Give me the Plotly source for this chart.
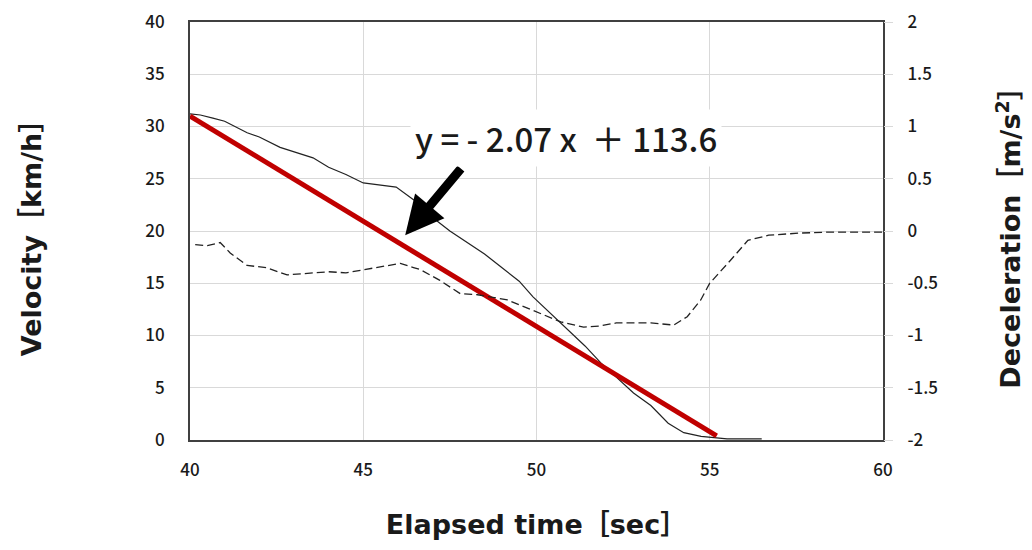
import plotly.graph_objects as go

# Velocity (km/h) vs elapsed time (s)
t_vel = [40.0, 40.3, 40.66, 41.0, 41.65, 42.0, 42.6, 43.0, 43.55, 44.0, 44.5, 45.0, 45.5,
         45.95, 46.45, 47.0, 47.5, 48.0, 48.5, 48.96, 49.5, 49.9, 50.4, 50.9, 51.4, 51.85,
         52.3, 52.8, 53.3, 53.8, 54.25, 54.75, 55.5, 56.5]
velocity = [31.2, 31.1, 30.8, 30.5, 29.4, 29.0, 28.0, 27.6, 27.0, 26.1, 25.4, 24.6, 24.4,
            24.2, 23.0, 21.3, 20.0, 18.9, 17.8, 16.6, 15.2, 13.7, 12.1, 10.5, 9.0, 7.4,
            6.0, 4.5, 3.3, 1.6, 0.7, 0.35, 0.1, 0.1]

# Deceleration (m/s^2) vs elapsed time (s)
t_dec = [40.15, 40.5, 40.87, 41.16, 41.65, 42.2, 42.8, 43.2, 43.55, 44.0, 44.5, 45.0, 45.5,
         46.07, 46.45, 46.65, 47.2, 47.8, 48.3, 48.7, 49.16, 49.9, 50.7, 51.36, 51.8, 52.3,
         53.3, 53.96, 54.35, 54.74, 55.0, 55.6, 56.1, 56.7, 57.6, 58.5, 60.0]
deceleration = [-0.13, -0.14, -0.11, -0.21, -0.33, -0.35, -0.42, -0.41, -0.40, -0.39, -0.40,
                -0.37, -0.34, -0.31, -0.35, -0.37, -0.47, -0.60, -0.61, -0.63, -0.66, -0.76,
                -0.87, -0.92, -0.91, -0.88, -0.88, -0.90, -0.82, -0.66, -0.50, -0.28, -0.09,
                -0.04, -0.02, -0.01, -0.01]

# Linear fit line
t_fit = [40.0, 55.2]
v_fit = [31.0, 0.4]

x_ticks = [40, 45, 50, 55, 60]
y_ticks = [0, 5, 10, 15, 20, 25, 30, 35, 40]
y2_ticks = [-2, -1.5, -1, -0.5, 0, 0.5, 1, 1.5, 2]
y2_labels = ["-2", "-1.5", "-1", "-0.5", "0", "0.5", "1", "1.5", "2"]

FONT = "Noto Sans CJK JP"
TFONT = "DejaVu Sans, Noto Sans CJK JP"
TXT = "#1a1a1a"
GRID = "#d9d9d9"
FRAME = "#404040"

tick_font = dict(family=FONT, size=17, color=TXT, weight=500)
title_font = dict(family=TFONT, size=27, color=TXT, weight="bold")

fig = go.Figure()
fig.add_trace(go.Scatter(x=t_dec, y=deceleration, mode="lines", yaxis="y2",
                         line=dict(color="#222222", width=1.3, dash="8px,4px"),
                         showlegend=False))
fig.add_trace(go.Scatter(x=t_vel, y=velocity, mode="lines",
                         line=dict(color="#222222", width=1.2), showlegend=False))
fig.add_trace(go.Scatter(x=t_fit, y=v_fit, mode="lines",
                         line=dict(color="#C00000", width=5), showlegend=False))

fig.add_annotation(x=46.21, y=19.6, xref="x", yref="y", ax=57, ay=-68,
                   showarrow=True, arrowhead=2, arrowsize=0.85, arrowwidth=9,
                   arrowcolor="#000000", text="")
fig.add_annotation(x=50.85, y=28.9, xref="x", yref="y", showarrow=False,
                   text="y = - 2.07 x  ＋ 113.6",
                   font=dict(family=FONT, size=33, color=TXT, weight=500),
                   bgcolor="white", borderpad=4)

fig.update_layout(
    width=1032, height=550,
    margin=dict(l=182, r=157, t=14, b=118, autoexpand=False),
    paper_bgcolor="white", plot_bgcolor="white",
    font=dict(family=FONT, color=TXT),
    xaxis=dict(range=[40, 60], tickvals=x_ticks, showgrid=True, gridcolor=GRID,
               gridwidth=1, zeroline=False, showline=True, linecolor=FRAME,
               linewidth=2, mirror=True, ticks="outside", ticklen=14,
               tickcolor="rgba(0,0,0,0)", tickfont=tick_font, automargin=False,
               ticklabeloverflow="allow",
               title=dict(text="Elapsed time［sec］", font=title_font, standoff=35)),
    yaxis=dict(range=[0, 40], tickvals=y_ticks, showgrid=True, gridcolor=GRID,
               gridwidth=1, zeroline=False, showline=True, linecolor=FRAME,
               linewidth=2, mirror=True, ticks="outside", ticklen=20,
               tickcolor="rgba(0,0,0,0)", tickfont=tick_font, automargin=False,
               ticklabeloverflow="allow",
               title=dict(text="Velocity［km/h］", font=title_font, standoff=96)),
    yaxis2=dict(range=[-2, 2], tickvals=y2_ticks, ticktext=y2_labels, overlaying="y",
                side="right", showgrid=False, zeroline=False, showline=False,
                ticks="outside", ticklen=9, tickwidth=1, tickcolor=GRID,
                ticklabelstandoff=11,
                tickfont=tick_font, ticklabeloverflow="allow", automargin=False,
                title=dict(text="Deceleration［m/s<sup>2</sup>］", font=title_font,
                           standoff=64)),
)

fig.write_html("out.html")
